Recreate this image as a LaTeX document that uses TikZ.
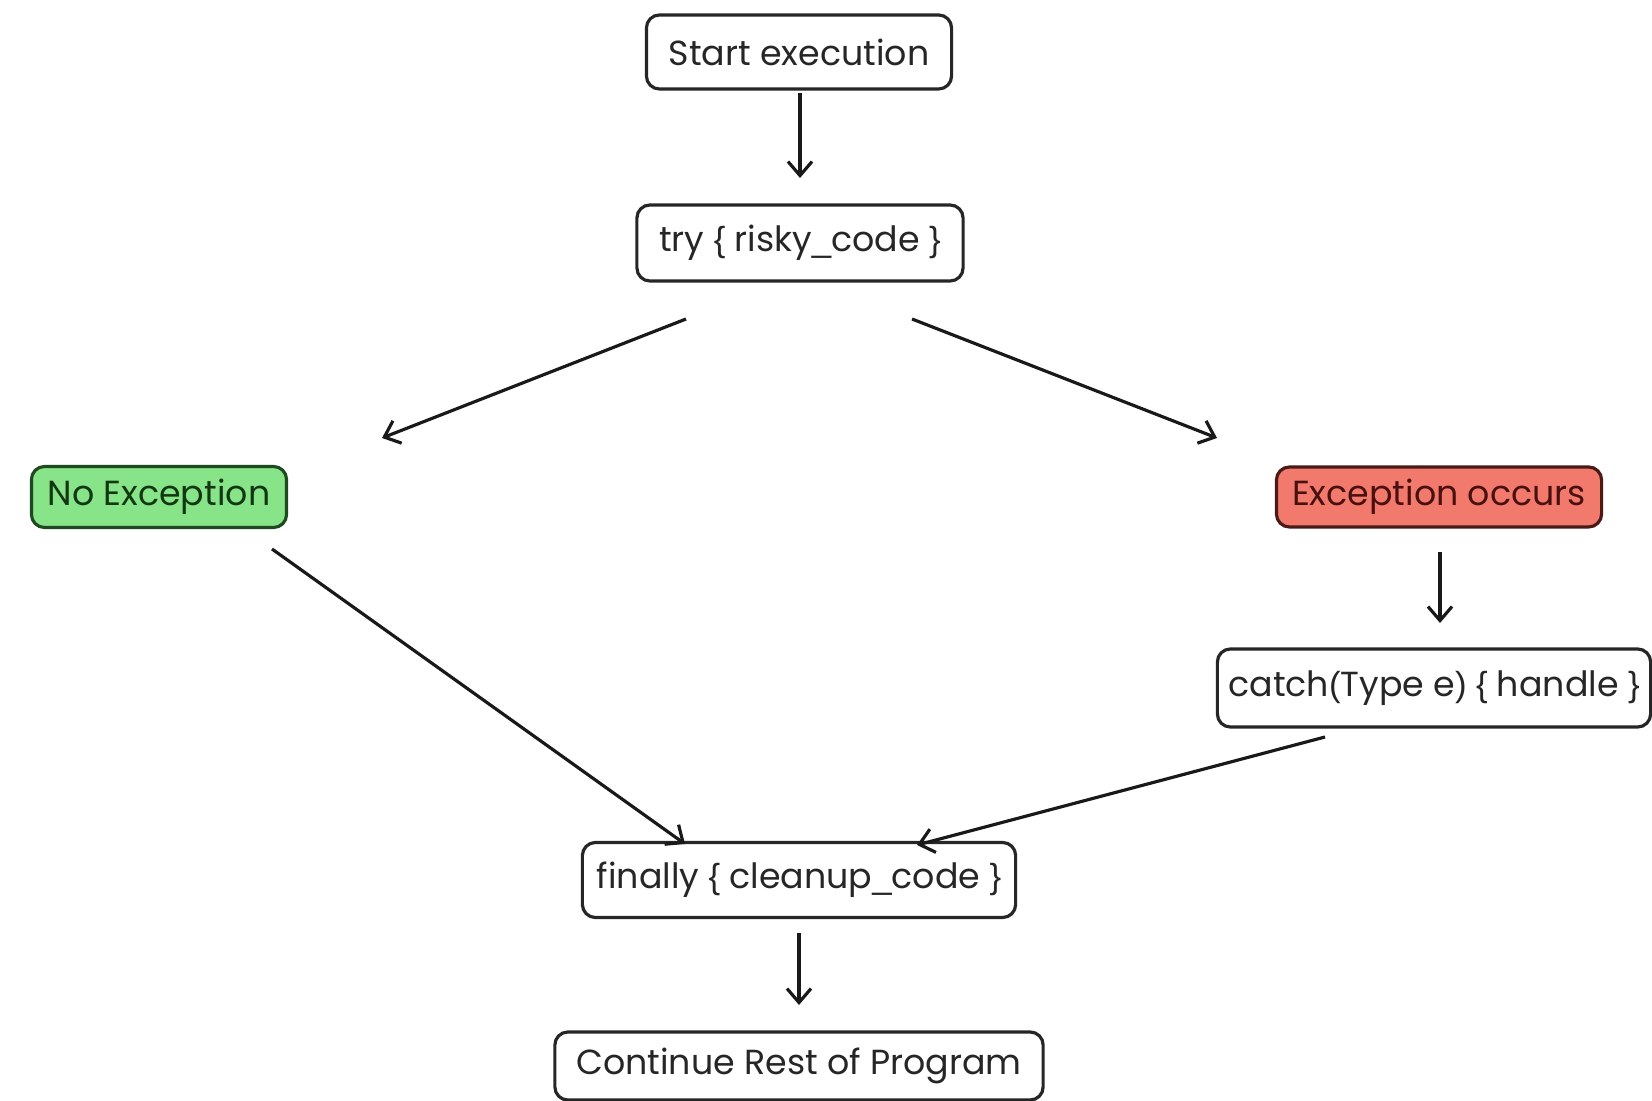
\documentclass[tikz,border=0pt]{standalone}
\usepackage{fontspec}
\setmainfont{Poppins}
\newfontfamily\symfont{Liberation Sans}
\newcommand{\lbr}{{\symfont\{}}
\newcommand{\rbr}{{\symfont\}}}
\newcommand{\usc}{{\symfont\_}}
\newcommand{\lpar}{{\symfont(}}
\newcommand{\rpar}{{\symfont)}}
\usetikzlibrary{arrows.meta}
\definecolor{okfill}{HTML}{88E488}
\definecolor{okdraw}{HTML}{1F4A1F}
\definecolor{oktext}{HTML}{123812}
\definecolor{errfill}{HTML}{F27A6C}
\definecolor{errdraw}{HTML}{4A1A16}
\definecolor{errtext}{HTML}{4A1010}
\tikzset{
  box/.style={draw=black!85, line width=0.9pt, rounded corners=0.13cm, fill=white,
    inner sep=0pt, font=\fontsize{9.9pt}{12pt}\selectfont, text=black!85},
  okbox/.style={box, fill=okfill, draw=okdraw, text=oktext},
  errbox/.style={box, fill=errfill, draw=errdraw, text=errtext},
  arr/.style={line width=0.9pt, draw=black!90, -{Straight Barb[length=1.4mm,width=2.4mm,line width=0.9pt]}}
}
\begin{document}
\begin{tikzpicture}[x=0.01cm,y=-0.01cm]
\useasboundingbox (0,0) rectangle (1652,1101);
\node[box, minimum width=3.05cm, minimum height=0.74cm] (start) at (799,52) {Start execution};
\node[box, minimum width=3.26cm, minimum height=0.76cm] (try) at (800,243) {try \lbr{} risky\usc{}code \rbr};
\node[okbox, minimum width=2.55cm, minimum height=0.61cm] (noexc) at (159,497) {No Exception};
\node[errbox, minimum width=3.25cm, minimum height=0.60cm] (exc) at (1439,497) {Exception occurs};
\node[box, minimum width=4.33cm, minimum height=0.78cm] (catch) at (1434,688) {catch\lpar{}Type e\rpar{} \lbr{} handle \rbr};
\node[box, minimum width=4.33cm, minimum height=0.75cm] (fin) at (799,880) {finally \lbr{} cleanup\usc{}code \rbr};
\node[box, minimum width=4.88cm, minimum height=0.68cm] (cont) at (799,1066) {Continue Rest of Program};

\coordinate (a1) at (800,93);   \coordinate (b1) at (800,178);
\coordinate (a2) at (686,319);  \coordinate (b2) at (382,438);
\coordinate (a3) at (912,319);  \coordinate (b3) at (1217,438);
\coordinate (a4) at (1440,552); \coordinate (b4) at (1440,623);
\coordinate (a5) at (272,549);  \coordinate (b5) at (685,844);
\coordinate (a6) at (1325,737); \coordinate (b6) at (917,845);
\coordinate (a7) at (799,933);  \coordinate (b7) at (799,1005);

\draw[arr] (a1) -- (b1);
\draw[arr] (a2) -- (b2);
\draw[arr] (a3) -- (b3);
\draw[arr] (a4) -- (b4);
\draw[arr] (a5) -- (b5);
\draw[arr] (a6) -- (b6);
\draw[arr] (a7) -- (b7);
\end{tikzpicture}
\end{document}
